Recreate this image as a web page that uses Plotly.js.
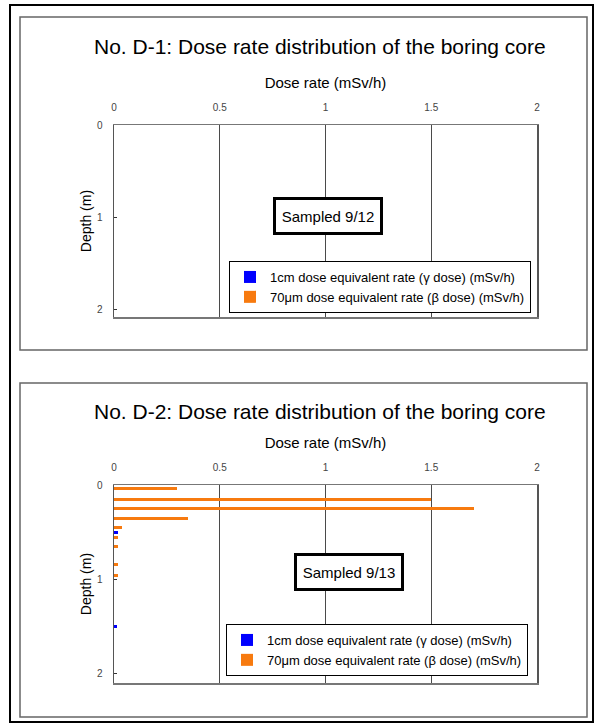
<!DOCTYPE html>
<html>
<head>
<meta charset="utf-8">
<script src="https://cdn.plot.ly/plotly-3.0.1.min.js"></script>
<style>
  html, body { margin: 0; padding: 0; background: #ffffff; }
  #chart { width: 595px; height: 724px; }
</style>
</head>
<body>
<div id="chart"></div>
<script>
// ---- Data ----
const seriesNames = ["1cm dose equivalent rate (γ dose) (mSv/h)", "70μm dose equivalent rate (β dose) (mSv/h)"];
const panelTitles = ["No. D-1: Dose rate distribution of the boring core", "No. D-2: Dose rate distribution of the boring core"];
const sampledLabels = ["Sampled 9/12", "Sampled 9/13"];
const xTickVals = [0, 0.5, 1, 1.5, 2];
const xTickText = ["0", "0.5", "1", "1.5", "2"];
const yTickVals = [0, 1, 2];
const yTickText = ["0", "1", "2"];

// D-1 : no measurable dose rate drawn
const d1Depth = [0.05, 0.15, 0.25];
const d1Gamma = [0, 0, 0];
const d1Beta = [0, 0, 0];

// D-2
const d2GammaDepth = [0.51, 1.5];
const d2Gamma = [0.02, 0.015];
const d2BetaDepth = [0.04, 0.15, 0.25, 0.36, 0.45, 0.56, 0.65, 0.85, 0.96];
const d2Beta = [0.30, 1.50, 1.70, 0.35, 0.04, 0.02, 0.02, 0.02, 0.02];

// ---- Layout helpers ----
const W = 595, H = 724;
const px = v => v / W;
const py = v => 1 - v / H;
const FONT = "Arial, 'Liberation Sans', sans-serif";
const BLUE = "#0000FF";
const ORANGE = "#F77A0F";

function barTrace(depths, vals, name, color, xa, ya, legend) {
  return {
    type: "bar", orientation: "h", x: vals, y: depths, name: name,
    xaxis: xa, yaxis: ya, legend: legend, showlegend: true,
    width: 0.032, marker: { color: color, line: { width: 0 } },
    hoverinfo: "x+y"
  };
}

const traces = [
  barTrace(d1Depth, d1Gamma, seriesNames[0], BLUE, "x", "y", "legend"),
  barTrace(d1Depth, d1Beta, seriesNames[1], ORANGE, "x", "y", "legend"),
  barTrace(d2GammaDepth, d2Gamma, seriesNames[0], BLUE, "x2", "y2", "legend2"),
  barTrace(d2BetaDepth, d2Beta, seriesNames[1], ORANGE, "x2", "y2", "legend2")
];

function xAxis(anchor) {
  return {
    domain: [px(114), px(537)], anchor: anchor, side: "top",
    range: [0, 2], tickvals: xTickVals, ticktext: xTickText,
    showgrid: true, gridcolor: "#4a4a4a", gridwidth: 1,
    showline: true, linecolor: "#777", linewidth: 1.5, mirror: true,
    ticks: "", ticklabelstandoff: 9,
    tickfont: { family: FONT, size: 10, color: "#444" },
    zeroline: false, fixedrange: true,
    title: { text: "Dose rate (mSv/h)", font: { family: FONT, size: 15, color: "#000" }, standoff: 9 }
  };
}
function yAxis(domain, range, anchor) {
  return {
    domain: domain, anchor: anchor, range: range,
    tickvals: yTickVals, ticktext: yTickText,
    showgrid: false, zeroline: false,
    showline: true, linecolor: "#555", linewidth: 1.5, mirror: true,
    ticks: "inside", ticklen: 3, tickcolor: "#333", tickwidth: 1,
    ticklabelstandoff: 8,
    tickfont: { family: FONT, size: 10, color: "#444" }, fixedrange: true,
    title: { text: "Depth (m)", font: { family: FONT, size: 14, color: "#000" }, standoff: 2 }
  };
}

const legendCommon = {
  xanchor: "right", yanchor: "top",
  bgcolor: "#ffffff", bordercolor: "#000", borderwidth: 1,
  font: { family: FONT, size: 13, color: "#000" },
  tracegroupgap: 0, itemwidth: 30, traceorder: "normal"
};

const layout = {
  width: W, height: H,
  margin: { l: 0, r: 0, t: 0, b: 0 },
  paper_bgcolor: "#ffffff", plot_bgcolor: "#ffffff",
  barmode: "overlay", bargap: 0,
  font: { family: FONT, color: "#000" },
  xaxis: xAxis("y"),
  yaxis: yAxis([py(317), py(125)], [2.087, 0], "x"),
  xaxis2: xAxis("y2"),
  yaxis2: yAxis([py(683), py(485)], [2.105, 0], "x2"),
  legend: Object.assign({}, legendCommon, { x: px(531), y: py(261) }),
  legend2: Object.assign({}, legendCommon, { x: px(528), y: py(624) }),
  annotations: [
    { text: panelTitles[0], xref: "paper", yref: "paper", x: px(320), y: py(47),
      xanchor: "center", yanchor: "middle", showarrow: false,
      font: { family: FONT, size: 21, color: "#000" } },
    { text: panelTitles[1], xref: "paper", yref: "paper", x: px(320), y: py(411),
      xanchor: "center", yanchor: "middle", showarrow: false,
      font: { family: FONT, size: 21, color: "#000" } },
    { text: sampledLabels[0], xref: "x", yref: "y", x: 1.01, y: 0.99,
      xanchor: "center", yanchor: "middle", showarrow: false,
      width: 100, height: 28, borderpad: 2, borderwidth: 3, bordercolor: "#000", bgcolor: "#fff",
      font: { family: FONT, size: 15, color: "#000" } },
    { text: sampledLabels[1], xref: "x2", yref: "y2", x: 1.11, y: 0.93,
      xanchor: "center", yanchor: "middle", showarrow: false,
      width: 100, height: 28, borderpad: 2, borderwidth: 3, bordercolor: "#000", bgcolor: "#fff",
      font: { family: FONT, size: 15, color: "#000" } }
  ],
  shapes: [
    { type: "rect", xref: "paper", yref: "paper", x0: px(10), x1: px(593), y0: py(722), y1: py(5),
      line: { color: "#000", width: 2 }, layer: "above" },
    { type: "rect", xref: "paper", yref: "paper", x0: px(20), x1: px(587), y0: py(350), y1: py(17),
      line: { color: "#666", width: 1.5 }, layer: "above" },
    { type: "rect", xref: "paper", yref: "paper", x0: px(20), x1: px(587), y0: py(717), y1: py(383),
      line: { color: "#666", width: 1.5 }, layer: "above" }
  ]
};

Plotly.newPlot("chart", traces, layout, { displayModeBar: false, staticPlot: true });
</script>
</body>
</html>
